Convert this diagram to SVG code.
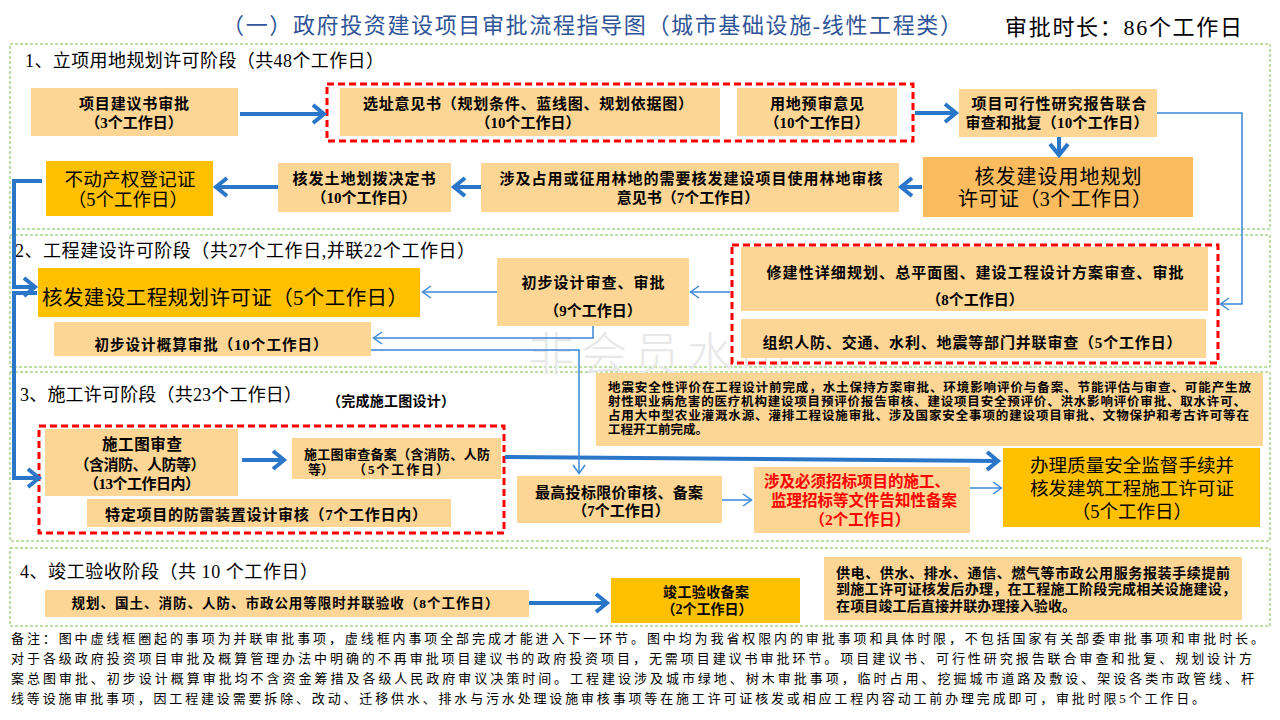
<svg xmlns="http://www.w3.org/2000/svg" width="1280" height="720" viewBox="0 0 1280 720">
<defs>
<style>
.bg{fill:#ffffff}
.sec{fill:none;stroke:#7cc04a;stroke-width:1;stroke-dasharray:3 2}
.par{fill:none;stroke:#ff0000;stroke-width:3;stroke-dasharray:7 4}
.lo{fill:#fdd594}
.or{fill:#fabc5f}
.gd{fill:#ffc000}
text{font-family:"Liberation Serif","Noto Sans CJK SC",serif;fill:#000}
.b{font-weight:bold}
.c{text-anchor:middle}
.red{fill:#ff0000}
.thick{fill:none;stroke:#2a76c8;stroke-width:4}
.thin{fill:none;stroke:#3a88d8;stroke-width:1.5}
</style>
<marker id="ah" markerUnits="userSpaceOnUse" markerWidth="20" markerHeight="24" refX="12" refY="11" orient="auto">
<path d="M2,2 L13,11 L2,20" fill="none" stroke="#2a76c8" stroke-width="4"/>
</marker>
<marker id="at" markerUnits="userSpaceOnUse" markerWidth="12" markerHeight="14" refX="9" refY="7" orient="auto">
<path d="M1,1 L9.5,7 L1,13" fill="none" stroke="#3a88d8" stroke-width="1.5"/>
</marker>
</defs>
<rect class="bg" x="0" y="0" width="1280" height="720"/>

<g id="header">
<text x="222" y="33" font-size="22" style="fill:#2f5597" textLength="740" lengthAdjust="spacing">（一）政府投资建设项目审批流程指导图（城市基础设施-线性工程类）</text>
<text x="1005" y="35" font-size="22" textLength="237" lengthAdjust="spacing">审批时长：86个工作日</text>
</g>

<g id="sections">
<rect class="sec" x="10" y="44" width="1260" height="185"/>
<rect class="sec" x="10" y="235" width="1260" height="132"/>
<rect class="sec" x="10" y="372" width="1260" height="169"/>
<rect class="sec" x="10" y="548" width="1260" height="78"/>
<text x="25" y="67" font-size="18" textLength="359" lengthAdjust="spacing">1、立项用地规划许可阶段（共48个工作日）</text>
<text x="15" y="257" font-size="18" textLength="460" lengthAdjust="spacing">2、工程建设许可阶段（共27个工作日,并联22个工作日）</text>
<text x="20" y="401" font-size="18" textLength="282" lengthAdjust="spacing">3、施工许可阶段（共23个工作日）</text>
<text x="327" y="406" font-size="14" class="b" textLength="128" lengthAdjust="spacing">（完成施工图设计）</text>
<text x="20" y="578" font-size="18" textLength="298" lengthAdjust="spacing">4、竣工验收阶段（共 10 个工作日）</text>
</g>

<text id="watermark" x="528" y="370" font-size="46" style="fill:#e8e8e8;font-family:'Noto Sans CJK SC',sans-serif;font-weight:300" textLength="258" lengthAdjust="spacing">非会员水印</text>

<g id="parallel-frames">
<rect class="par" x="327" y="84" width="586" height="57"/>
<rect class="par" x="732" y="245" width="486" height="118"/>
<rect class="par" x="39" y="426" width="465" height="107"/>
</g>

<g id="n1"><rect class="lo" x="31" y="88" width="207" height="48"/>
<text class="c b" x="134" y="109" font-size="15" textLength="110" lengthAdjust="spacing">项目建议书审批</text>
<text class="c b" x="134" y="128" font-size="15">（3个工作日）</text></g>

<g id="n2"><rect class="lo" x="340" y="88" width="380" height="48"/>
<text class="c b" x="528" y="109" font-size="15" textLength="330" lengthAdjust="spacing">选址意见书（规划条件、蓝线图、规划依据图）</text>
<text class="c b" x="528" y="128" font-size="15">（10个工作日）</text></g>

<g id="n3"><rect class="lo" x="737" y="88" width="160" height="48"/>
<text class="c b" x="817" y="109" font-size="15" textLength="94" lengthAdjust="spacing">用地预审意见</text>
<text class="c b" x="817" y="128" font-size="15">（10个工作日）</text></g>

<g id="n4"><rect class="lo" x="959" y="89" width="198" height="48"/>
<text class="c b" x="1059" y="109" font-size="15" textLength="175" lengthAdjust="spacing">项目可行性研究报告联合</text>
<text class="c b" x="1057" y="128" font-size="15" textLength="183" lengthAdjust="spacing">审查和批复（10个工作日）</text></g>

<g id="n5"><rect class="or" x="923" y="157" width="270" height="60"/>
<text class="c" x="1058" y="184" font-size="20" textLength="167" lengthAdjust="spacing">核发建设用地规划</text>
<text class="c" x="1055" y="206" font-size="20" textLength="194" lengthAdjust="spacing">许可证（3个工作日）</text></g>

<g id="n6"><rect class="lo" x="481" y="163" width="418" height="49"/>
<text class="c b" x="691" y="184" font-size="15" textLength="383" lengthAdjust="spacing">涉及占用或征用林地的需要核发建设项目使用林地审核</text>
<text class="c b" x="688" y="203" font-size="15">意见书（7个工作日）</text></g>

<g id="n7"><rect class="lo" x="278" y="163" width="173" height="49"/>
<text class="c b" x="364" y="184" font-size="15" textLength="143" lengthAdjust="spacing">核发土地划拨决定书</text>
<text class="c b" x="364" y="203" font-size="15">（10个工作日）</text></g>

<g id="n8"><rect class="gd" x="46" y="161" width="167" height="55"/>
<text class="c" x="130" y="186" font-size="18.5" textLength="131" lengthAdjust="spacing">不动产权登记证</text>
<text class="c" x="128" y="206" font-size="18.5">（5个工作日）</text></g>

<g id="n9"><rect class="gd" x="38" y="268" width="382" height="49"/>
<text x="42" y="305" font-size="20.5" textLength="366" lengthAdjust="spacing">核发建设工程规划许可证（5个工作日）</text></g>

<g id="n10"><rect class="lo" x="497" y="258" width="192" height="68"/>
<text class="c b" x="593" y="288" font-size="15" textLength="143" lengthAdjust="spacing">初步设计审查、审批</text>
<text class="c b" x="593" y="316" font-size="15">（9个工作日）</text></g>

<g id="n11"><rect class="lo" x="741" y="247" width="467" height="64"/>
<text class="c b" x="975" y="278" font-size="15" textLength="417" lengthAdjust="spacing">修建性详细规划、总平面图、建设工程设计方案审查、审批</text>
<text class="c b" x="975" y="305" font-size="15">（8个工作日）</text></g>

<g id="n12"><rect class="lo" x="741" y="319" width="465" height="39"/>
<text class="c b" x="972" y="348" font-size="15" textLength="419" lengthAdjust="spacing">组织人防、交通、水利、地震等部门并联审查（5个工作日）</text></g>

<g id="n13"><rect class="lo" x="54" y="322" width="317" height="34"/>
<text class="c b" x="211" y="350" font-size="14.5" textLength="233" lengthAdjust="spacing">初步设计概算审批（10个工作日）</text></g>

<g id="n14"><rect class="lo" x="596" y="373" width="667" height="73"/>
<text class="b" x="608" y="392" font-size="12.5" textLength="643" lengthAdjust="spacing">地震安全性评价在工程设计前完成，水土保持方案审批、环境影响评价与备案、节能评估与审查、可能产生放</text>
<text class="b" x="608" y="406" font-size="12.5" textLength="638" lengthAdjust="spacing">射性职业病危害的医疗机构建设项目预评价报告审核、建设项目安全预评价、洪水影响评价审批、取水许可、</text>
<text class="b" x="608" y="420" font-size="12.5" textLength="641" lengthAdjust="spacing">占用大中型农业灌溉水源、灌排工程设施审批、涉及国家安全事项的建设项目审批、文物保护和考古许可等在</text>
<text class="b" x="608" y="434" font-size="12.5" textLength="100" lengthAdjust="spacing">工程开工前完成。</text></g>

<g id="n15"><rect class="lo" x="45" y="429" width="193" height="67"/>
<text class="c b" x="142" y="450" font-size="15.5" textLength="80" lengthAdjust="spacing">施工图审查</text>
<text class="c b" x="140" y="470" font-size="15" textLength="131" lengthAdjust="spacing">（含消防、人防等）</text>
<text class="c b" x="142" y="489" font-size="15" textLength="116" lengthAdjust="spacing">（13个工作日内）</text></g>

<g id="n16"><rect class="lo" x="292" y="438" width="209" height="41"/>
<text class="b" x="304" y="459" font-size="13" textLength="186" lengthAdjust="spacing">施工图审查备案（含消防、人防</text>
<text class="b" x="308" y="474" font-size="13">等）</text>
<text class="b" x="353" y="474" font-size="13" textLength="96" lengthAdjust="spacing">（5个工作日）</text></g>

<g id="n17"><rect class="lo" x="87" y="499" width="364" height="28"/>
<text class="c b" x="266" y="520" font-size="15" textLength="322" lengthAdjust="spacing">特定项目的防雷装置设计审核（7个工作日内）</text></g>

<g id="n18"><rect class="lo" x="517" y="476" width="205" height="47"/>
<text class="c b" x="619" y="498" font-size="15" textLength="168" lengthAdjust="spacing">最高投标限价审核、备案</text>
<text class="c b" x="621" y="516" font-size="15">（7个工作日）</text></g>

<g id="n19"><rect class="lo" x="754" y="467" width="216" height="66"/>
<text class="c b red" style="fill:#ff0000" x="857" y="487" font-size="15.5" textLength="186" lengthAdjust="spacing">涉及必须招标项目的施工、</text>
<text class="c b red" style="fill:#ff0000" x="864" y="506" font-size="15.5" textLength="186" lengthAdjust="spacing">监理招标等文件告知性备案</text>
<text class="c b red" style="fill:#ff0000" x="860" y="525" font-size="15.5">（2个工作日）</text></g>

<g id="n20"><rect class="gd" x="1003" y="448" width="257" height="79"/>
<text class="c" x="1132" y="472" font-size="18.5" textLength="204" lengthAdjust="spacing">办理质量安全监督手续并</text>
<text class="c" x="1132" y="495" font-size="18.5" textLength="204" lengthAdjust="spacing">核发建筑工程施工许可证</text>
<text class="c" x="1132" y="518" font-size="18.5">（5个工作日）</text></g>

<g id="n21"><rect class="lo" x="45" y="590" width="484" height="27"/>
<text class="c b" x="285" y="608" font-size="13.5" textLength="427" lengthAdjust="spacing">规划、国土、消防、人防、市政公用等限时并联验收（8个工作日）</text></g>

<g id="n22"><rect class="gd" x="611" y="578" width="189" height="45"/>
<text class="c b" x="706" y="597" font-size="14" textLength="86" lengthAdjust="spacing">竣工验收备案</text>
<text class="c b" x="707" y="614" font-size="14">（2个工作日）</text></g>

<g id="n23"><rect class="lo" x="824" y="557" width="418" height="63"/>
<text class="b" x="836" y="578" font-size="14" textLength="394" lengthAdjust="spacing">供电、供水、排水、通信、燃气等市政公用服务报装手续提前</text>
<text class="b" x="836" y="594" font-size="14" textLength="400" lengthAdjust="spacing">到施工许可证核发后办理，在工程施工阶段完成相关设施建设，</text>
<text class="b" x="836" y="611" font-size="14" textLength="240" lengthAdjust="spacing">在项目竣工后直接并联办理接入验收。</text></g>

<g id="connectors">
<path class="thick" d="M240,114 H323" marker-end="url(#ah)"/>
<path class="thick" d="M915,113 H955" marker-end="url(#ah)"/>
<path class="thick" d="M1059,137 V154" marker-end="url(#ah)"/>
<path class="thick" d="M922,187 H902" marker-end="url(#ah)"/>
<path class="thick" d="M481,187 H455" marker-end="url(#ah)"/>
<path class="thick" d="M278,187 H217" marker-end="url(#ah)"/>
<path class="thick" d="M42,181 H14 V287 H34" marker-end="url(#ah)"/>
<path class="thick" d="M37,293 H14 V478 H38" marker-end="url(#ah)"/>
<path class="thick" d="M242,460 H283" marker-end="url(#ah)"/>
<path class="thick" d="M505,457 L997,461" marker-end="url(#ah)"/>
<path class="thick" d="M529,603 H606" marker-end="url(#ah)"/>
<path class="thin" d="M1157,113 H1242 V304 H1221" marker-end="url(#at)"/>
<path class="thin" d="M730,292 H691" marker-end="url(#at)"/>
<path class="thin" d="M497,292 H423" marker-end="url(#at)"/>
<path class="thin" d="M593,326 V338 H374" marker-end="url(#at)"/>
<path class="thin" d="M371,350 H579 V473" marker-end="url(#at)"/>
<path class="thin" d="M722,500 H751" marker-end="url(#at)"/>
<path class="thin" d="M970,488 H1001" marker-end="url(#at)"/>
</g>

<g id="footer">
<text x="11" y="643" font-size="13" textLength="1253" lengthAdjust="spacing">备注：图中虚线框圈起的事项为并联审批事项，虚线框内事项全部完成才能进入下一环节。图中均为我省权限内的审批事项和具体时限，不包括国家有关部委审批事项和审批时长。</text>
<text x="11" y="663" font-size="13" textLength="1241" lengthAdjust="spacing">对于各级政府投资项目审批及概算管理办法中明确的不再审批项目建议书的政府投资项目，无需项目建议书审批环节。项目建议书、可行性研究报告联合审查和批复、规划设计方</text>
<text x="11" y="683" font-size="13" textLength="1243" lengthAdjust="spacing">案总图审批、初步设计概算审批均不含资金筹措及各级人民政府审议决策时间。工程建设涉及城市绿地、树木审批事项，临时占用、挖掘城市道路及敷设、架设各类市政管线、杆</text>
<text x="11" y="703" font-size="13" textLength="1194" lengthAdjust="spacing">线等设施审批事项，因工程建设需要拆除、改动、迁移供水、排水与污水处理设施审核事项等在施工许可证核发或相应工程内容动工前办理完成即可，审批时限5个工作日。</text>
</g>
</svg>
